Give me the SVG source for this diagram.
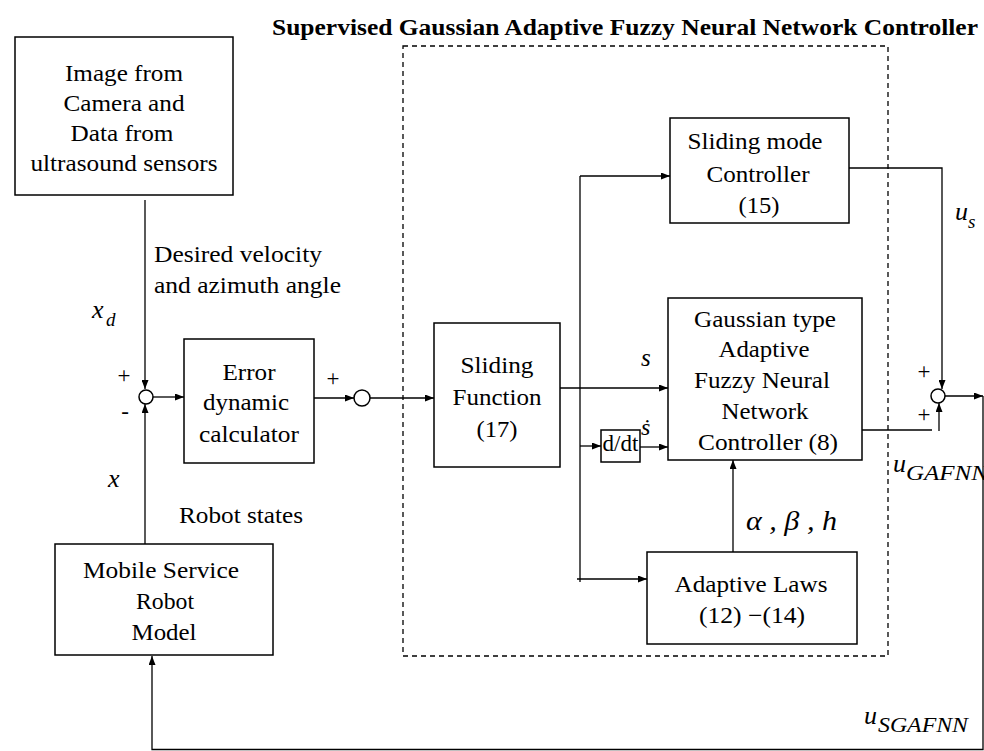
<svg xmlns="http://www.w3.org/2000/svg" width="984" height="751" viewBox="0 0 984 751">
<defs>
<marker id="arr" markerUnits="userSpaceOnUse" markerWidth="9" markerHeight="7" refX="9" refY="3.5" orient="auto">
<path d="M0,0 L9,3.5 L0,7 z" fill="#000"/>
</marker>
<style>
.box{fill:#fff;stroke:#000;stroke-width:1.5}
.ln{fill:none;stroke:#000;stroke-width:1.3}
.dash{fill:none;stroke:#000;stroke-width:1.3;stroke-dasharray:5 4}
.t{font-family:"Liberation Serif",serif;font-size:23px;fill:#000}
.c{text-anchor:middle}
.i{font-family:"Liberation Serif","DejaVu Serif",serif;font-style:italic;fill:#000}
.title{font-family:"Liberation Serif",serif;font-size:24px;font-weight:bold;fill:#000}
</style>
</defs>
<rect width="984" height="751" fill="#fff"/>

<text class="title" x="272" y="35" textLength="706" lengthAdjust="spacingAndGlyphs">Supervised Gaussian Adaptive Fuzzy Neural Network Controller</text>
<rect id="supervisor" class="dash" x="403" y="46" width="485" height="610"/>

<g id="connectors">
<line class="ln" x1="145" y1="200" x2="145" y2="389" marker-end="url(#arr)"/>
<line class="ln" x1="145" y1="544" x2="145" y2="404" marker-end="url(#arr)"/>
<line class="ln" x1="153" y1="397" x2="184" y2="397" marker-end="url(#arr)"/>
<line class="ln" x1="314" y1="398" x2="354" y2="398" marker-end="url(#arr)"/>
<line class="ln" x1="370" y1="398" x2="434" y2="398" marker-end="url(#arr)"/>
<line class="ln" x1="560" y1="388" x2="668" y2="388" marker-end="url(#arr)"/>
<line class="ln" x1="580" y1="176" x2="580" y2="582"/>
<line class="ln" x1="580" y1="176" x2="670" y2="176" marker-end="url(#arr)"/>
<line class="ln" x1="580" y1="446" x2="601" y2="446" marker-end="url(#arr)"/>
<line class="ln" x1="577" y1="579" x2="647" y2="579" marker-end="url(#arr)"/>
<line class="ln" x1="640" y1="447" x2="668" y2="447" marker-end="url(#arr)"/>
<line class="ln" x1="733" y1="552" x2="733" y2="460" marker-end="url(#arr)"/>
<polyline class="ln" points="849,168 942,168 942,389" marker-end="url(#arr)"/>
<line class="ln" x1="862" y1="430" x2="932" y2="430"/>
<line class="ln" x1="939" y1="431" x2="939" y2="403" marker-end="url(#arr)"/>
<line class="ln" x1="945" y1="396" x2="983" y2="396" marker-end="url(#arr)"/>
<polyline class="ln" points="983,396 983,749.5 152,749.5 152,656" marker-end="url(#arr)"/>
</g>

<g id="sum1">
<circle class="box" cx="146" cy="397" r="7" stroke-width="1.3"/>
<text class="t" x="124" y="383" font-size="15" text-anchor="middle">+</text>
<text class="t" x="125" y="419" font-size="16" text-anchor="middle">-</text>
</g>
<g id="sum2">
<circle class="box" cx="362" cy="398" r="8" stroke-width="1.3"/>
<text class="t" x="333" y="386" font-size="22" text-anchor="middle">+</text>
</g>
<g id="sum3">
<circle class="box" cx="938" cy="396" r="7" stroke-width="1.3"/>
<text class="t" x="924" y="379" font-size="22" text-anchor="middle">+</text>
<text class="t" x="924" y="422" font-size="22" text-anchor="middle">+</text>
</g>

<g id="image-box">
<rect class="box" x="15" y="37" width="218" height="158"/>
<text class="t c" x="124" y="81" textLength="118" lengthAdjust="spacingAndGlyphs">Image from</text>
<text class="t c" x="124" y="111" textLength="121" lengthAdjust="spacingAndGlyphs">Camera and</text>
<text class="t c" x="122" y="141" textLength="103" lengthAdjust="spacingAndGlyphs">Data from</text>
<text class="t c" x="124" y="171" textLength="187" lengthAdjust="spacingAndGlyphs">ultrasound sensors</text>
</g>

<g id="labels">
<text class="t" x="154" y="262" textLength="168" lengthAdjust="spacingAndGlyphs">Desired velocity</text>
<text class="t" x="154" y="293" textLength="187" lengthAdjust="spacingAndGlyphs">and azimuth angle</text>
<text class="i" x="92" y="318" font-size="26">x</text>
<text class="i" x="106" y="326" font-size="19">d</text>
<text class="i" x="108" y="487" font-size="26">x</text>
<text class="t" x="179" y="523" textLength="124" lengthAdjust="spacingAndGlyphs">Robot states</text>
<text class="i" x="641" y="366" font-size="25">s</text>
<text class="i" x="641" y="435" font-size="24">ṡ</text>
<text class="i" x="955" y="220" font-size="26">u</text>
<text class="i" x="968" y="228" font-size="19">s</text>
<text class="i" x="746" y="530" font-size="28" textLength="91" lengthAdjust="spacingAndGlyphs">α , β , h</text>
<text class="i" x="893" y="472" font-size="26">u</text>
<text class="i" x="906" y="480" font-size="22" textLength="82" lengthAdjust="spacingAndGlyphs">GAFNN</text>
<text class="i" x="864" y="724" font-size="26">u</text>
<text class="i" x="878" y="732" font-size="21" textLength="90" lengthAdjust="spacingAndGlyphs">SGAFNN</text>
</g>

<g id="error-calc">
<rect class="box" x="184" y="339" width="130" height="124"/>
<text class="t c" x="249" y="380" textLength="53" lengthAdjust="spacingAndGlyphs">Error</text>
<text class="t c" x="246" y="410" textLength="86" lengthAdjust="spacingAndGlyphs">dynamic</text>
<text class="t c" x="249" y="442" textLength="100" lengthAdjust="spacingAndGlyphs">calculator</text>
</g>

<g id="sliding-function">
<rect class="box" x="434" y="323" width="126" height="144"/>
<text class="t c" x="497" y="373" textLength="73" lengthAdjust="spacingAndGlyphs">Sliding</text>
<text class="t c" x="497" y="405" textLength="89" lengthAdjust="spacingAndGlyphs">Function</text>
<text class="t c" x="497" y="437" textLength="41" lengthAdjust="spacingAndGlyphs">(17)</text>
</g>

<g id="smc">
<rect class="box" x="670" y="118" width="179" height="105"/>
<text class="t c" x="755" y="149" textLength="135" lengthAdjust="spacingAndGlyphs">Sliding mode</text>
<text class="t c" x="758" y="182" textLength="103" lengthAdjust="spacingAndGlyphs">Controller</text>
<text class="t c" x="759" y="213" textLength="41" lengthAdjust="spacingAndGlyphs">(15)</text>
</g>

<g id="gafnn">
<rect class="box" x="668" y="298" width="194" height="162"/>
<text class="t c" x="765" y="327" textLength="142" lengthAdjust="spacingAndGlyphs">Gaussian type</text>
<text class="t c" x="764" y="357" textLength="91" lengthAdjust="spacingAndGlyphs">Adaptive</text>
<text class="t c" x="762" y="388" textLength="136" lengthAdjust="spacingAndGlyphs">Fuzzy Neural</text>
<text class="t c" x="765" y="419" textLength="87" lengthAdjust="spacingAndGlyphs">Network</text>
<text class="t c" x="768" y="450" textLength="140" lengthAdjust="spacingAndGlyphs">Controller (8)</text>
</g>

<g id="ddt">
<rect class="box" x="601" y="430" width="39" height="32" stroke-width="1.3"/>
<text class="t c" x="620.5" y="451" font-size="13">d/dt</text>
</g>

<g id="adaptive-laws">
<rect class="box" x="647" y="552" width="210" height="92"/>
<text class="t c" x="751" y="592" textLength="153" lengthAdjust="spacingAndGlyphs">Adaptive Laws</text>
<text class="t c" x="752" y="623" textLength="106" lengthAdjust="spacingAndGlyphs">(12) −(14)</text>
</g>

<g id="robot-model">
<rect class="box" x="55" y="544" width="218" height="111"/>
<text class="t c" x="161" y="578" textLength="156" lengthAdjust="spacingAndGlyphs">Mobile Service</text>
<text class="t c" x="165" y="609" textLength="58" lengthAdjust="spacingAndGlyphs">Robot</text>
<text class="t c" x="164" y="640" textLength="65" lengthAdjust="spacingAndGlyphs">Model</text>
</g>
</svg>
